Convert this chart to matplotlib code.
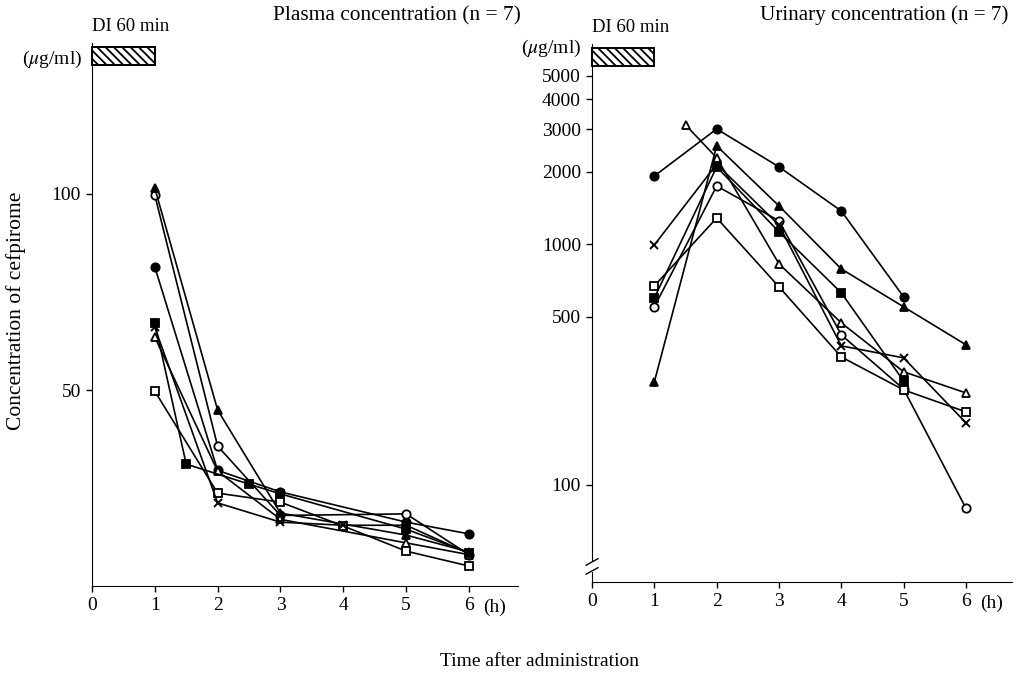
import numpy as np
import matplotlib as mpl
mpl.use("Agg")
import matplotlib.pyplot as plt
from matplotlib.patches import Rectangle

plt.rcParams['font.family'] = ['Liberation Serif', 'DejaVu Serif']
plt.rcParams['mathtext.fontset'] = 'stix'
plt.rcParams['hatch.linewidth'] = 1.3

# plasma concentration (ug/ml), 7 patients
p_t  = {'fc': [1, 2, 3, 5, 6],
        'oc': [1, 2, 3, 5, 6],
        'ft': [1, 2, 3, 5, 6],
        'ot': [1, 2, 3, 5, 6],
        'fs': [1, 1.5, 2.5, 3, 5, 6],
        'os': [1, 2, 3, 4, 5, 6],
        'x':  [1, 2, 3, 4, 5, 6]}
p_c  = {'fc': [81.4, 29.5, 24.0, 16.3, 13.3],
        'oc': [99.7, 35.7, 18.0, 18.4, 8.0],
        'ft': [101.5, 44.9, 18.6, 13.0, 8.7],
        'ot': [63.5, 29.3, 17.0, 11.0, 8.0],
        'fs': [67.1, 31.1, 26.0, 23.5, 14.5, 8.5],
        'os': [49.7, 23.7, 21.4, 15.3, 8.9, 5.1],
        'x':  [66.0, 21.2, 16.3, 15.5, 15.5, 8.3]}

# urinary concentration (ug/ml)
u_t  = {'fc': [1, 2, 3, 4, 5],
        'oc': [1, 2, 3, 4, 5, 6],
        'ft': [1, 2, 3, 4, 5, 6],
        'ot': [1.5, 2, 3, 4, 5, 6],
        'fs': [1, 2, 3, 4, 5],
        'os': [1, 2, 3, 4, 5, 6],
        'x':  [1, 2, 3, 4, 5, 6]}
u_c  = {'fc': [1920, 3010, 2095, 1373, 604],
        'oc': [549, 1745, 1250, 420, 250, 80],
        'ft': [268, 2560, 1442, 789, 549, 382],
        'ot': [3130, 2285, 828, 471, 295, 241],
        'fs': [598, 2095, 1125, 628, 270],
        'os': [671, 1285, 665, 340, 248, 201],
        'x':  [993, 2150, 1200, 378, 337, 181]}

u_ticks = [100, 500, 1000, 2000, 3000, 4000, 5000]

sty = {'fc': dict(marker='o', mfc='k', mew=1.3),
       'oc': dict(marker='o', mfc='w', mew=1.3),
       'ft': dict(marker='^', mfc='k', mew=1.3),
       'ot': dict(marker='^', mfc='w', mew=1.3),
       'fs': dict(marker='s', mfc='k', mew=1.3),
       'os': dict(marker='s', mfc='w', mew=1.3),
       'x':  dict(marker='x', mfc='k', mew=1.4)}

fig = plt.figure(figsize=(10.15, 6.76), dpi=100)
ax1 = fig.add_axes([0.0906, 0.1331, 0.4197, 0.8032])
ax2 = fig.add_axes([0.5833, 0.1391, 0.4138, 0.7959])

for ax in (ax1, ax2):
    for s in ('top', 'right'):
        ax.spines[s].set_visible(False)
    ax.tick_params(direction='out', length=4, width=1, labelsize=14, pad=4)
    ax.set_xticks(range(7))

for k in p_t:
    ax1.plot(p_t[k], p_c[k], color='k', lw=1.2, ms=6, mec='k', **sty[k])
ax1.set_xlim(0, 6.78)
ax1.set_ylim(0, 138.5)
ax1.set_yticks([50, 100])
ax1.add_patch(Rectangle((0, 132.9), 1, 4.6, facecolor='w', edgecolor='k',
                        hatch='\\\\\\\\', lw=1.4, clip_on=False))

for k in u_t:
    ax2.plot(u_t[k], u_c[k], color='k', lw=1.2, ms=6, mec='k', **sty[k])
ax2.set_yscale('log')
ax2.set_xlim(0, 6.74)
ax2.set_ylim(39.5, 6790)
ax2.yaxis.set_major_locator(mpl.ticker.FixedLocator(u_ticks))
ax2.yaxis.set_minor_locator(mpl.ticker.NullLocator())
ax2.yaxis.set_major_formatter(mpl.ticker.FixedFormatter([str(v) for v in u_ticks]))
ax2.add_patch(Rectangle((0, 5510), 1, 1030, facecolor='w', edgecolor='k',
                        hatch='\\\\\\\\', lw=1.4, clip_on=False))

# axis break on urinary y axis
ax2.add_patch(Rectangle((-0.01, 0.0186), 0.02, 0.018, transform=ax2.transAxes,
                        facecolor='w', edgecolor='none', clip_on=False, zorder=5))
for yb in (0.0372, 0.0205):
    ax2.plot([-0.014, 0.014], [yb - 0.006, yb + 0.006], color='k', lw=1,
             transform=ax2.transAxes, clip_on=False, zorder=6)

for ax in (ax1, ax2):
    ax.text(6.22, -0.024, '(h)', transform=ax.get_xaxis_transform(),
            fontsize=14, va='top', ha='left')
    ax.text(0.0, 1.015, 'DI 60 min', transform=ax.transAxes, fontsize=13.5,
            va='bottom', ha='left')

fig.text(0.513, 0.977, 'Plasma concentration (n = 7)', fontsize=15.4,
         ha='right', va='center')
fig.text(0.993, 0.977, 'Urinary concentration (n = 7)', fontsize=15.2,
         ha='right', va='center')
fig.text(0.022, 0.912, r'($\mu$g/ml)', fontsize=14, ha='left', va='center')
fig.text(0.513, 0.929, r'($\mu$g/ml)', fontsize=14, ha='left', va='center')
fig.text(0.016, 0.54, 'Concentration of cefpirome', fontsize=15.5,
         rotation=90, ha='center', va='center')
fig.text(0.532, 0.022, 'Time after administration', fontsize=14,
         ha='center', va='center')

fig.savefig('out.png', dpi=100)
